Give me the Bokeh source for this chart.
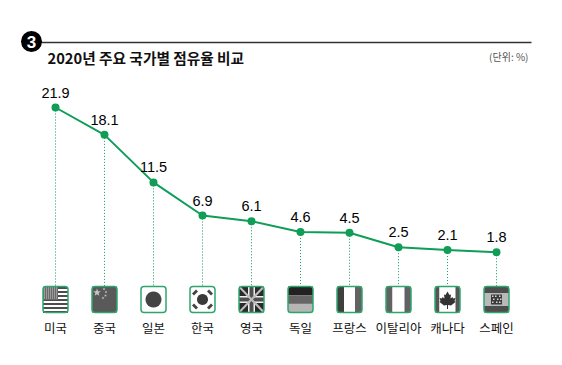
from bokeh.plotting import figure
from bokeh.models import Range1d, ColumnDataSource
from bokeh.core.properties import value
from bokeh.embed import file_html
from bokeh.resources import INLINE
import math

countries = ["미국", "중국", "일본", "한국", "영국", "독일", "프랑스", "이탈리아", "캐나다", "스페인"]
shares = [21.9, 18.1, 11.5, 6.9, 6.1, 4.6, 4.5, 2.5, 2.1, 1.8]
labels = ["21.9", "18.1", "11.5", "6.9", "6.1", "4.6", "4.5", "2.5", "2.1", "1.8"]
title_text = "2020년 주요 국가별 점유율 비교"
unit_text = "(단위: %)"
badge_text = "3"

GREEN = "#0f9d58"
W, H = 546, 349
X0, DX = 55, 49       # page px of the first category, px per category
Y0, DY = 107, 7.2     # page px of the first value, px per unit


def sx(px):
    return (px - X0) / DX


def sy(py):
    return shares[0] - (py - Y0) / DY


p = figure(width=W, height=H, output_backend="svg", toolbar_location=None, min_border=0,
           x_range=Range1d(sx(0), sx(W)), y_range=Range1d(sy(H), sy(0)))
p.axis.visible = False
p.grid.visible = False
p.outline_line_color = None
p.background_fill_color = "white"
p.border_fill_color = "white"

FT, FB = 286, 312     # flag top / bottom on the page
HW = 12.5             # half flag width
xs = list(range(len(shares)))

# dotted drop lines
p.segment(x0=xs, y0=shares, x1=xs, y1=[sy(FT)] * len(xs), line_color=GREEN, line_width=1, line_dash="1 2")

# flags: rectangles given in px relative to the flag's top-left corner
rects = {k: [] for k in ("l", "r", "t", "b", "c")}


def rect(i, a, b, c, d, col):
    left = X0 + DX * i - HW
    rects["l"].append(sx(left + a))
    rects["r"].append(sx(left + c))
    rects["t"].append(sy(FT + b))
    rects["b"].append(sy(FT + d))
    rects["c"].append(col)


polys_x, polys_y, polys_c = [], [], []


def poly(i, pts, col):
    left = X0 + DX * i - HW
    polys_x.append([sx(left + a) for a, _ in pts])
    polys_y.append([sy(FT + b) for _, b in pts])
    polys_c.append(col)


def disc(i, cx, cy, r, col):
    poly(i, [(cx + r * math.cos(t / 24 * 2 * math.pi), cy + r * math.sin(t / 24 * 2 * math.pi)) for t in range(24)], col)


FW, FH = 25, 26
# USA
rect(0, 0, 0, FW, FH, "#ffffff")
for k in range(0, 7):
    rect(0, 0, k * 4 + 0.5, FW, k * 4 + 2.5, "#4d4d4d")
rect(0, 0, 0, 15, 13.5, "#6a6a6a")
for a in range(1, 15, 2):
    for b in range(1, 13, 2):
        rect(0, a, b, a + 1, b + 1, "#c9c9c9")
# China
rect(1, 0, 0, FW, FH, "#595959")
def star(i, cx, cy, r, col):
    poly(i, [(cx + (r if t % 2 == 0 else r * 0.42) * math.sin(t * math.pi / 5),
              cy - (r if t % 2 == 0 else r * 0.42) * math.cos(t * math.pi / 5)) for t in range(10)], col)
star(1, 5, 6, 4, "#c4c4c4")
for a, b in [(12, 2.5), (14, 5.5), (13.5, 9), (11, 11.5)]:
    star(1, a, b, 1.5, "#bdbdbd")
# Japan
rect(2, 0, 0, FW, FH, "#ffffff")
disc(2, 12.5, 13, 8, "#444444")
# Korea
rect(3, 0, 0, FW, FH, "#ffffff")
disc(3, 12.5, 13, 5.5, "#3a3a3a")
for a, b, s in [(5, 6, 1), (20, 6, -1), (5, 20, -1), (20, 20, 1)]:
    poly(3, [(a - 3 * s, b + 1), (a + 1 * s, b - 3), (a + 3 * s, b - 1), (a - 1 * s, b + 3)], "#444444")
# UK
rect(4, 0, 0, FW, FH, "#2a2a2a")
poly(4, [(0, 0), (1.5, 0), (FW, 24.5), (FW, FH), (23.5, FH), (0, 1.5)], "#bdbdbd")
poly(4, [(FW, 0), (23.5, 0), (0, 24.5), (0, FH), (1.5, FH), (FW, 1.5)], "#bdbdbd")
rect(4, 9, 0, 16, FH, "#eeeeee")
rect(4, 0, 9.5, FW, 16.5, "#eeeeee")
rect(4, 10.5, 0, 14.5, FH, "#505050")
rect(4, 0, 11, FW, 15, "#505050")
# Germany
rect(5, 0, 0, FW, 8.7, "#222222")
rect(5, 0, 8.7, FW, 17.4, "#666666")
rect(5, 0, 17.4, FW, FH, "#b5b5b5")
# France
rect(6, 0, 0, 7, FH, "#3f3f3f")
rect(6, 7, 0, 18, FH, "#ffffff")
rect(6, 18, 0, FW, FH, "#626262")
# Italy
rect(7, 0, 0, 6.5, FH, "#626262")
rect(7, 6.5, 0, 18.5, FH, "#ffffff")
rect(7, 18.5, 0, FW, FH, "#626262")
# Canada
rect(8, 0, 0, 4.5, FH, "#555555")
rect(8, 4.5, 0, 20.5, FH, "#ffffff")
rect(8, 20.5, 0, FW, FH, "#555555")
poly(8, [(12.5, 5), (14.5, 8.5), (16, 8), (15.5, 12), (17.5, 10.5), (18, 12), (20.5, 11.5), (19.5, 14.5), (20.5, 15.5),
         (16, 19), (13, 18.5), (13, 22.5), (12, 22.5), (12, 18.5), (9, 19), (4.5, 15.5), (5.5, 14.5), (4.5, 11.5),
         (7, 12), (7.5, 10.5), (9.5, 12), (9, 8), (10.5, 8.5)], "#333333")
# Spain
rect(9, 0, 0, FW, 6.5, "#4d4d4d")
rect(9, 0, 6.5, FW, 19.5, "#b9b9b9")
rect(9, 0, 19.5, FW, FH, "#4d4d4d")
rect(9, 7, 8, 18, 18, "#3a3a3a")
for a, b in [(8, 9), (11, 9), (15, 9), (9, 12), (13, 12), (16, 12), (8, 15), (12, 15), (15, 15)]:
    rect(9, a, b, a + 1.5, b + 1.5, "#d6d6d6")

p.quad(left="l", right="r", top="t", bottom="b", fill_color="c", line_color=None,
       source=ColumnDataSource(rects))
p.patches(polys_x, polys_y, fill_color=polys_c, line_color=None)
p.quad(left=[i - HW / DX for i in xs], right=[i + HW / DX for i in xs],
       top=[sy(FT)] * len(xs), bottom=[sy(FB)] * len(xs),
       fill_color=None, line_color="#2fa56e", line_width=1.5, border_radius=3)

# series
p.line(xs, shares, line_color=GREEN, line_width=2)
p.scatter(xs, shares, size=8, fill_color=GREEN, line_color=GREEN, line_width=0)

KR = value("Noto Sans CJK KR")
p.text(xs, shares, text=labels, x_offset=0, y_offset=-10, text_align="center", text_baseline="bottom",
       text_font=value("Liberation Sans"), text_font_size="14.5px", text_color="#000000")
p.text(xs, [sy(327)] * len(xs), text=countries, text_align="center", text_baseline="middle",
       text_font=KR, text_font_size="12.5px", text_color="#111111")

# header
p.segment(x0=[sx(30)], y0=[sy(42)], x1=[sx(531)], y1=[sy(42)], line_color="#333333", line_width=1.5)
p.scatter([sx(31)], [sy(41)], size=21, fill_color="#000000", line_color=None)
p.text([sx(31)], [sy(41)], text=[badge_text], text_align="center", text_baseline="middle",
       text_font=value("Liberation Sans"), text_font_style="bold", text_font_size="17px", text_color="#ffffff")
p.text([sx(47)], [sy(57)], text=[title_text], text_align="left", text_baseline="middle",
       text_font=KR, text_font_style="bold", text_font_size="14.7px", text_color="#111111")
p.text([sx(528)], [sy(56)], text=[unit_text], text_align="right", text_baseline="middle",
       text_font=KR, text_font_size="10px", text_color="#555555")

open("out.html", "w").write(file_html(p, INLINE))
